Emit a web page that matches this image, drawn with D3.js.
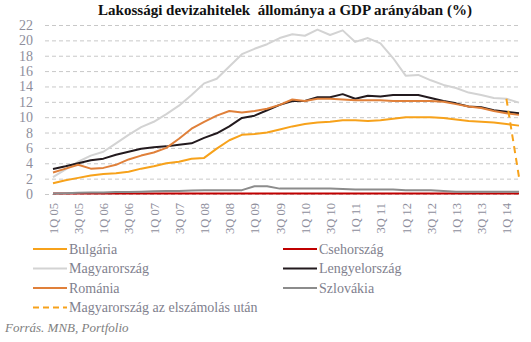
<!DOCTYPE html>
<html>
<head>
<meta charset="utf-8">
<script src="https://cdn.jsdelivr.net/npm/d3@7"></script>
<style>
  body { margin: 0; background: #fff; }
</style>
</head>
<body>
<div id="chart"></div>
<script>
// quarters, 1Q 05 .. 2Q 14
var quarters = ["1Q 05","2Q 05","3Q 05","4Q 05","1Q 06","2Q 06","3Q 06","4Q 06",
  "1Q 07","2Q 07","3Q 07","4Q 07","1Q 08","2Q 08","3Q 08","4Q 08",
  "1Q 09","2Q 09","3Q 09","4Q 09","1Q 10","2Q 10","3Q 10","4Q 10",
  "1Q 11","2Q 11","3Q 11","4Q 11","1Q 12","2Q 12","3Q 12","4Q 12",
  "1Q 13","2Q 13","3Q 13","4Q 13","1Q 14","2Q 14"];

var yTicks = [0,2,4,6,8,10,12,14,16,18,20,22];

var bulgaria = [1.4,1.8,2.1,2.4,2.6,2.7,2.9,3.3,3.6,4.0,4.2,4.6,4.7,5.9,7.0,7.7,
  7.8,8.0,8.4,8.8,9.1,9.3,9.4,9.6,9.6,9.5,9.6,9.8,10.0,10.0,10.0,9.9,
  9.7,9.5,9.4,9.3,9.1,8.9];
var csehorszag = [0.05,0.05,0.05,0.05,0.05,0.05,0.05,0.05,0.05,0.05,0.05,0.05,0.05,0.05,0.05,0.05,
  0.05,0.05,0.05,0.05,0.05,0.05,0.05,0.05,0.05,0.05,0.05,0.05,0.05,0.05,0.05,0.05,
  0.05,0.05,0.05,0.05,0.05,0.05];
var magyarorszag = [2.2,3.2,4.2,5.0,5.5,6.6,7.7,8.7,9.4,10.4,11.5,12.9,14.4,15.0,16.6,18.2,
  18.9,19.5,20.3,20.8,20.6,21.4,20.7,21.3,19.8,20.3,19.6,17.7,15.4,15.5,14.8,14.2,
  13.8,13.2,12.9,12.5,12.4,11.9];
var lengyelorszag = [3.25,3.6,4.0,4.4,4.6,5.1,5.5,5.9,6.1,6.2,6.4,6.6,7.3,7.9,8.8,9.9,
  10.2,10.9,11.6,12.1,12.1,12.6,12.6,13.0,12.4,12.8,12.7,12.9,12.9,12.9,12.5,12.1,
  11.8,11.4,11.3,10.9,10.7,10.5];
var romania = [2.8,3.3,3.8,3.3,3.4,3.8,4.5,5.0,5.4,6.0,7.2,8.5,9.4,10.2,10.8,10.6,
  10.8,11.1,11.6,12.3,12.1,12.4,12.4,12.3,12.2,12.2,12.2,12.1,12.1,12.1,12.1,12.0,
  11.7,11.4,11.2,10.8,10.5,10.3];
var szlovakia = [0.05,0.1,0.15,0.2,0.2,0.25,0.25,0.3,0.35,0.4,0.4,0.45,0.5,0.5,0.5,0.5,
  1.0,1.0,0.7,0.7,0.7,0.7,0.7,0.65,0.6,0.6,0.6,0.6,0.5,0.5,0.5,0.4,
  0.3,0.3,0.3,0.3,0.3,0.3];
// only the last two quarters carry a value
var elszamolas = [null,null,null,null,null,null,null,null,null,null,null,null,null,null,null,null,
  null,null,null,null,null,null,null,null,null,null,null,null,null,null,null,null,
  null,null,null,null,12.4,2.2];

var series = [
  {name: "Bulgária", values: bulgaria, color: "#F7A21B"},
  {name: "Csehország", values: csehorszag, color: "#C00000"},
  {name: "Magyarország", values: magyarorszag, color: "#D3D3D3"},
  {name: "Lengyelország", values: lengyelorszag, color: "#231A1E"},
  {name: "Románia", values: romania, color: "#E0803A"},
  {name: "Szlovákia", values: szlovakia, color: "#8C8C8C"},
  {name: "Magyarország az elszámolás után", values: elszamolas, color: "#F7A21B", dashed: true}
];

var serif = "'Liberation Serif', 'DejaVu Serif', serif";
var width = 531, height = 342;
var svg = d3.select("#chart").append("svg")
  .attr("width", width)
  .attr("height", height);

var x = d3.scalePoint().domain(quarters).range([53, 519]);
var y = d3.scaleLinear().domain([0, 22]).range([194, 25]);

// title
svg.append("text")
  .attr("x", 285)
  .attr("y", 15)
  .attr("text-anchor", "middle")
  .style("font-family", serif)
  .style("font-size", "15px")
  .style("font-weight", "bold")
  .style("white-space", "pre")
  .attr("fill", "#111")
  .text("Lakossági devizahitelek  állománya a GDP arányában (%)");

// grid + y labels
var yAxis = d3.axisLeft(y)
  .tickValues(yTicks)
  .tickSize(-(521 - 45))
  .tickPadding(12);

var gy = svg.append("g")
  .attr("transform", "translate(45,0)")
  .call(yAxis);
gy.select(".domain").remove();
gy.selectAll(".tick line")
  .attr("stroke", "#c8c8c8")
  .attr("stroke-dasharray", "4,3");
gy.selectAll(".tick text")
  .style("font-family", serif)
  .style("font-size", "14px")
  .attr("fill", "#8e8e9c");

// x labels, every second quarter
var xAxis = d3.axisBottom(x)
  .tickValues(quarters.filter(function(d, i) { return i % 2 == 0; }))
  .tickSize(0)
  .tickPadding(0);

var gx = svg.append("g")
  .attr("transform", "translate(0,194)")
  .call(xAxis);
gx.select(".domain").remove();
gx.selectAll(".tick text")
  .style("font-family", serif)
  .style("font-size", "12.5px")
  .attr("fill", "#8e8e9c")
  .attr("text-anchor", "end")
  .attr("dy", "0.35em")
  .attr("transform", "translate(0,9) rotate(-90)");

// lines
var line = d3.line()
  .defined(function(d) { return d != null; })
  .x(function(d, i) { return x(quarters[i]); })
  .y(function(d) { return y(d); });

svg.append("g").selectAll("path")
  .data(series)
  .enter()
  .append("path")
  .attr("fill", "none")
  .attr("stroke", function(d) { return d.color; })
  .attr("stroke-width", 2)
  .attr("stroke-linejoin", "round")
  .attr("stroke-dasharray", function(d) { return d.dashed ? "7,5" : null; })
  .attr("d", function(d) { return line(d.values); });

// legend
var legend = svg.append("g").selectAll("g")
  .data(series)
  .enter()
  .append("g")
  .attr("transform", function(d, i) {
    var col = (i < 6) ? i % 2 : 0;
    var row = Math.floor(i / 2);
    return "translate(" + (33 + col * 250) + "," + (249 + row * 19.5) + ")";
  });

legend.append("line")
  .attr("x1", 0).attr("x2", 34)
  .attr("stroke", function(d) { return d.color; })
  .attr("stroke-width", 2)
  .attr("stroke-dasharray", function(d) { return d.dashed ? "6,4" : null; });

legend.append("text")
  .attr("x", 36)
  .attr("dy", "0.33em")
  .style("font-family", serif)
  .style("font-size", "14px")
  .attr("fill", "#7f7f8e")
  .text(function(d) { return d.name; });

svg.append("text")
  .attr("x", 5)
  .attr("y", 332)
  .style("font-family", serif)
  .style("font-size", "13px")
  .style("font-style", "italic")
  .attr("fill", "#808080")
  .text("Forrás. MNB, Portfolio");
</script>
</body>
</html>
